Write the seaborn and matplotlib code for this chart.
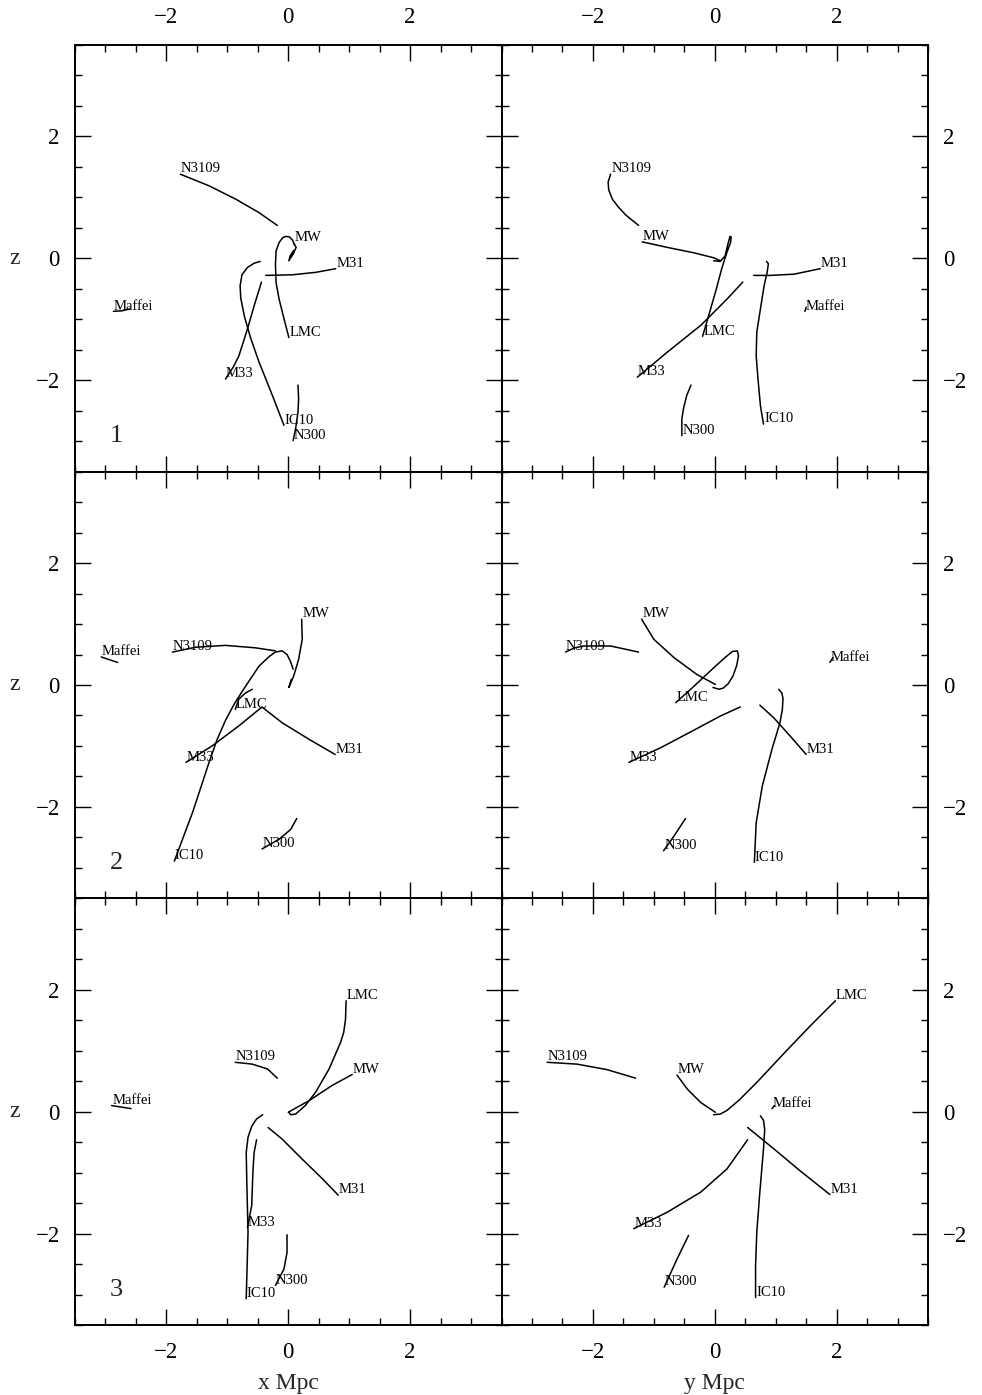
import matplotlib
matplotlib.use("Agg")
import matplotlib.pyplot as plt
import numpy as np
import pandas as pd
import seaborn as sns
from matplotlib.ticker import MultipleLocator

# Orbits of Local Group galaxies for three model solutions, projected on
# the x-z and y-z planes (Mpc). Each list runs from the present position
# (where the galaxy name is written) back toward the early-time position.

SOL1_XZ = {
    "N3109": [(-1.77, 1.38), (-1.30, 1.19), (-0.86, 0.97), (-0.48, 0.75), (-0.18, 0.54)],
    "MW": [(0.09, 0.25), (0.13, 0.18), (0.08, 0.07), (0.01, -0.04), (0.03, 0.04), (0.09, 0.13)],
    "LMC": [(0.01, -1.30), (-0.07, -0.99), (-0.15, -0.67), (-0.20, -0.40), (-0.21, -0.10),
            (-0.20, 0.12), (-0.15, 0.26), (-0.09, 0.34), (-0.04, 0.36), (0.02, 0.35),
            (0.07, 0.30), (0.10, 0.22)],
    "M31": [(0.78, -0.17), (0.45, -0.23), (0.07, -0.27), (-0.37, -0.28)],
    "M33": [(-1.03, -1.98), (-0.90, -1.78), (-0.81, -1.60), (-0.67, -1.16), (-0.56, -0.78),
            (-0.44, -0.39)],
    "IC10": [(-0.07, -2.74), (-0.26, -2.25), (-0.48, -1.70), (-0.62, -1.30), (-0.72, -0.95),
             (-0.78, -0.65), (-0.79, -0.45), (-0.76, -0.27), (-0.67, -0.15), (-0.56, -0.08),
             (-0.46, -0.05)],
    "N300": [(0.08, -2.99), (0.12, -2.80), (0.16, -2.52), (0.17, -2.31), (0.16, -2.08)],
    "Maffei": [(-2.87, -0.87), (-2.72, -0.86), (-2.60, -0.83)],
}

SOL1_YZ = {
    "N3109": [(-1.71, 1.38), (-1.75, 1.25), (-1.74, 1.12), (-1.68, 0.97), (-1.58, 0.84),
              (-1.46, 0.71), (-1.25, 0.54)],
    "MW": [(-1.19, 0.27), (-0.78, 0.18), (-0.34, 0.09), (-0.02, 0.01), (0.09, -0.04)],
    "LMC": [(-0.20, -1.28), (-0.10, -0.94), (0.01, -0.56), (0.12, -0.15), (0.20, 0.10),
            (0.26, 0.26), (0.27, 0.35), (0.25, 0.36), (0.21, 0.21), (0.17, 0.04),
            (0.09, -0.05), (-0.02, -0.04)],
    "M31": [(1.73, -0.17), (1.30, -0.26), (0.91, -0.28), (0.64, -0.28)],
    "M33": [(-1.27, -1.95), (-0.78, -1.54), (-0.23, -1.10), (0.20, -0.67), (0.46, -0.39)],
    "IC10": [(0.80, -2.72), (0.75, -2.42), (0.71, -1.98), (0.68, -1.60), (0.69, -1.21),
             (0.75, -0.83), (0.81, -0.45), (0.86, -0.23), (0.88, -0.09), (0.85, -0.05)],
    "N300": [(-0.54, -2.91), (-0.54, -2.63), (-0.51, -2.45), (-0.46, -2.25), (-0.39, -2.08)],
    "Maffei": [(1.48, -0.87), (1.50, -0.80)],
}

SOL2_XZ = {
    "Maffei": [(-3.07, 0.46), (-2.80, 0.37)],
    "N3109": [(-1.90, 0.54), (-1.52, 0.62), (-1.03, 0.65), (-0.54, 0.61), (-0.21, 0.56)],
    "IC10": [(-1.87, -2.89), (-1.57, -2.09), (-1.30, -1.27), (-1.17, -0.90), (-1.03, -0.58),
             (-0.88, -0.30), (-0.70, -0.02), (-0.48, 0.31), (-0.31, 0.47), (-0.21, 0.54),
             (-0.10, 0.56), (-0.02, 0.50), (0.04, 0.38), (0.08, 0.26)],
    "MW": [(0.22, 1.08), (0.23, 0.75), (0.17, 0.42), (0.09, 0.15), (0.01, -0.04), (0.05, 0.09)],
    "LMC": [(-0.87, -0.40), (-0.81, -0.23), (-0.70, -0.13), (-0.59, -0.07)],
    "M33": [(-1.68, -1.27), (-1.25, -1.00), (-0.81, -0.67), (-0.43, -0.36)],
    "M31": [(0.77, -1.14), (0.34, -0.89), (-0.10, -0.62), (-0.42, -0.37)],
    "N300": [(-0.43, -2.69), (-0.15, -2.53), (0.04, -2.37), (0.14, -2.19)],
}

SOL2_YZ = {
    "N3109": [(-2.45, 0.54), (-2.30, 0.61), (-2.15, 0.64), (-1.71, 0.64), (-1.25, 0.54)],
    "MW": [(-1.20, 1.08), (-1.00, 0.75), (-0.67, 0.45), (-0.29, 0.17), (0.01, 0.01)],
    "LMC": [(-0.64, -0.29), (-0.34, -0.02), (-0.02, 0.28), (0.18, 0.46), (0.29, 0.55),
            (0.37, 0.56), (0.39, 0.48), (0.36, 0.32), (0.30, 0.15), (0.22, 0.02),
            (0.14, -0.05), (0.07, -0.07), (-0.03, -0.04)],
    "M33": [(-1.41, -1.27), (-0.89, -1.03), (-0.34, -0.74), (0.09, -0.51), (0.42, -0.36)],
    "M31": [(1.50, -1.14), (1.24, -0.84), (0.97, -0.54), (0.74, -0.33)],
    "IC10": [(0.65, -2.91), (0.68, -2.26), (0.78, -1.66), (0.94, -1.05), (1.07, -0.62),
             (1.11, -0.40), (1.12, -0.22), (1.10, -0.13), (1.05, -0.07)],
    "N300": [(-0.84, -2.72), (-0.67, -2.48), (-0.48, -2.19)],
    "Maffei": [(1.89, 0.37), (1.94, 0.45)],
}

SOL3_XZ = {
    "Maffei": [(-2.90, 0.10), (-2.58, 0.05)],
    "N3109": [(-0.87, 0.81), (-0.59, 0.78), (-0.34, 0.70), (-0.18, 0.55)],
    "LMC": [(0.95, 1.82), (0.94, 1.52), (0.91, 1.30), (0.86, 1.14), (0.67, 0.70), (0.45, 0.32),
            (0.28, 0.10), (0.12, -0.04), (0.04, -0.05), (0.01, -0.01)],
    "MW": [(1.05, 0.61), (0.72, 0.43), (0.34, 0.18), (0.07, 0.03), (0.00, -0.01)],
    "M31": [(0.82, -1.37), (0.56, -1.10), (0.23, -0.78), (-0.10, -0.45), (-0.33, -0.26)],
    "IC10": [(-0.69, -3.07), (-0.66, -1.98), (-0.68, -1.16), (-0.69, -0.67), (-0.66, -0.42),
             (-0.60, -0.24), (-0.52, -0.12), (-0.42, -0.05)],
    "M33": [(-0.67, -1.90), (-0.60, -1.54), (-0.58, -0.99), (-0.56, -0.67), (-0.52, -0.46)],
    "N300": [(-0.21, -2.85), (-0.07, -2.58), (-0.02, -2.31), (-0.02, -2.02)],
}

SOL3_YZ = {
    "N3109": [(-2.75, 0.81), (-2.26, 0.78), (-1.77, 0.69), (-1.30, 0.55)],
    "MW": [(-0.62, 0.60), (-0.45, 0.37), (-0.23, 0.15), (0.01, -0.01)],
    "LMC": [(1.98, 1.82), (1.57, 1.41), (1.13, 0.95), (0.69, 0.48), (0.40, 0.19),
            (0.20, 0.02), (0.09, -0.04), (-0.02, -0.05)],
    "Maffei": [(0.94, 0.05), (0.98, 0.10)],
    "M31": [(1.89, -1.36), (1.40, -0.97), (0.97, -0.61), (0.54, -0.26)],
    "M33": [(-1.33, -1.92), (-0.78, -1.65), (-0.23, -1.32), (0.20, -0.94), (0.54, -0.46)],
    "IC10": [(0.67, -3.05), (0.67, -2.52), (0.69, -1.98), (0.74, -1.32), (0.80, -0.61),
             (0.82, -0.30), (0.80, -0.14), (0.75, -0.07)],
    "N300": [(-0.83, -2.88), (-0.62, -2.42), (-0.43, -2.03)],
}

SOLUTIONS = [(SOL1_XZ, SOL1_YZ), (SOL2_XZ, SOL2_YZ), (SOL3_XZ, SOL3_YZ)]
SOLUTION_NAMES = ["1", "2", "3"]
X_LABELS = ["x Mpc", "y Mpc"]
MAJOR_TICKS = [-2, 0, 2]

sns.set_theme(style="white")
plt.rcParams["font.family"] = ["Liberation Serif", "DejaVu Serif"]
plt.rcParams["axes.unicode_minus"] = True


def to_frame(orbits):
    rows = []
    for name, pts in orbits.items():
        for step, (h, z) in enumerate(pts):
            rows.append({"galaxy": name, "step": step, "h": h, "z": z})
    return pd.DataFrame(rows)


fig, axes = plt.subplots(3, 2, figsize=(9.82, 13.95), dpi=100)
fig.subplots_adjust(left=75 / 982, right=928 / 982,
                    bottom=(1395 - 1325) / 1395, top=(1395 - 45) / 1395,
                    wspace=0, hspace=0)

for r, pair in enumerate(SOLUTIONS):
    for c, orbits in enumerate(pair):
        ax = axes[r, c]
        df = to_frame(orbits)
        sns.lineplot(data=df, x="h", y="z", units="galaxy", estimator=None,
                     sort=False, color="black", linewidth=1.1, ax=ax, legend=False)
        for name, pts in orbits.items():
            h0, z0 = pts[0]
            ax.text(h0 + 0.01, z0 + 0.03, name, fontsize=10.5, ha="left",
                    va="baseline", color="black")
        if c == 0:
            ax.text(-2.93, -3.02, SOLUTION_NAMES[r], fontsize=19,
                    ha="left", va="baseline")

        ax.set_xlim(-3.5, 3.5)
        ax.set_ylim(-3.5, 3.5)
        ax.xaxis.set_major_locator(plt.FixedLocator(MAJOR_TICKS))
        ax.yaxis.set_major_locator(plt.FixedLocator(MAJOR_TICKS))
        ax.xaxis.set_minor_locator(MultipleLocator(0.5))
        ax.yaxis.set_minor_locator(MultipleLocator(0.5))
        ax.tick_params(which="both", direction="in", top=True, bottom=True,
                       left=True, right=True, color="black", width=1.0,
                       labelsize=16.5, labelcolor="black")
        ax.tick_params(which="major", length=11.5)
        ax.tick_params(which="minor", length=5)
        ax.tick_params(axis="x", pad=12)
        ax.tick_params(axis="y", pad=11)
        ax.tick_params(labelleft=(c == 0), labelright=(c == 1),
                       labeltop=(r == 0), labelbottom=(r == 2))
        for spine in ax.spines.values():
            spine.set_linewidth(1.4)
            spine.set_color("black")

        ax.set_xlabel("")
        ax.set_ylabel("")
        if c == 0:
            ax.set_ylabel("z", rotation=0, fontsize=17, va="center", ha="center")
            ax.yaxis.set_label_coords(-0.141, 0.5)
        if r == 2:
            ax.set_xlabel(X_LABELS[c], fontsize=17, va="center")
            ax.xaxis.set_label_coords(0.5, -0.136)

fig.savefig("out.png", dpi=100, facecolor="white")
